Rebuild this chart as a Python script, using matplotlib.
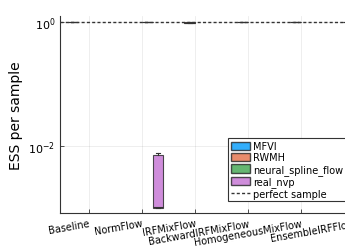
import matplotlib.pyplot as plt
from matplotlib.patches import Patch
from matplotlib.lines import Line2D

# categories on the x axis and the sampler series
methods = ["Baseline", "NormFlow", "IRFMixFlow", "BackwardIRFMixFlow",
           "HomogeneousMixFlow", "EnsembleIRFFlow"]
series = ["MFVI", "RWMH", "neural_spline_flow", "real_nvp"]
colors = ["#009AFA", "#E36F47", "#3EA44E", "#C371D2"]

# box stats per method: (whislo, q1, med, q3, whishi), None = no box
mfvi = [(1.0, 1.0, 1.0, 1.0, 1.0), None, None, None, None, None]
rwmh = [None, None, (0.95, 0.96, 0.98, 1.0, 1.0), (1.0, 1.0, 1.0, 1.0, 1.0),
        (1.0, 1.0, 1.0, 1.0, 1.0), (1.0, 1.0, 1.0, 1.0, 1.0)]
nsf = [None, (1.0, 1.0, 1.0, 1.0, 1.0), None, None, None, None]
real_nvp = [None, (0.00098, 0.001, 0.00102, 0.0071, 0.0076), None, None, None, None]
all_stats = [mfvi, rwmh, nsf, real_nvp]

fig = plt.figure(figsize=(3.45, 2.53), dpi=100)
ax = fig.add_axes([60 / 345, 39 / 253, 323 / 345, 197 / 253])

width = 0.2
offsets = [-0.3, -0.1, 0.1, 0.3]
for stats, off, col in zip(all_stats, offsets, colors):
    for i, s in enumerate(stats):
        if s is None:
            continue
        d = dict(whislo=s[0], q1=s[1], med=s[2], q3=s[3], whishi=s[4], fliers=[])
        ax.bxp([d], positions=[i + off], widths=width, patch_artist=True,
               showfliers=False, manage_ticks=False,
               boxprops=dict(facecolor=col, alpha=0.8, edgecolor="#222222", linewidth=0.8),
               medianprops=dict(color="#333333", linewidth=0.8),
               whiskerprops=dict(color="#333333", linewidth=0.8),
               capprops=dict(color="#333333", linewidth=0.8), capwidths=width * 0.4)

ax.axhline(1.0, color="#333333", linestyle=(0, (2.2, 1.6)), linewidth=1.0, zorder=5)

ax.set_yscale("log")
ax.set_ylim(10 ** -3.088, 10 ** 0.097)
ax.set_yticks([1e-2, 1e0])
ax.minorticks_off()
ax.set_xlim(-0.547, 5.547)
ax.set_xticks(range(len(methods)))
ax.set_xticklabels(methods, rotation=10, ha="right", va="top",
                   rotation_mode="anchor", fontsize=7)
ax.tick_params(axis="y", labelsize=8)
ax.tick_params(direction="in", length=3, width=0.6, color="#333333")
ax.set_ylabel("ESS per sample", fontsize=10)
ax.grid(True, color="black", alpha=0.08, linewidth=0.6)
for side in ["top", "right"]:
    ax.spines[side].set_visible(False)
for side in ["left", "bottom"]:
    ax.spines[side].set_linewidth(0.8)
    ax.spines[side].set_color("#333333")

handles = [Patch(facecolor=c, alpha=0.8, edgecolor="#222222", label=s)
           for s, c in zip(series, colors)]
handles.append(Line2D([0], [0], color="#333333", linestyle=(0, (2.2, 1.6)),
                      linewidth=1.0, label="perfect sample"))
leg = fig.legend(handles=handles, loc="upper left",
                 bbox_to_anchor=(228 / 345, 1 - 139 / 253), fontsize=7,
                 frameon=True, fancybox=False, framealpha=1, borderpad=0.3,
                 labelspacing=0.15, handlelength=2.0, handleheight=0.9,
                 handletextpad=0.3, borderaxespad=0)
leg.get_frame().set_edgecolor("#333333")
leg.get_frame().set_linewidth(0.8)

plt.savefig("out.png", dpi=100)
